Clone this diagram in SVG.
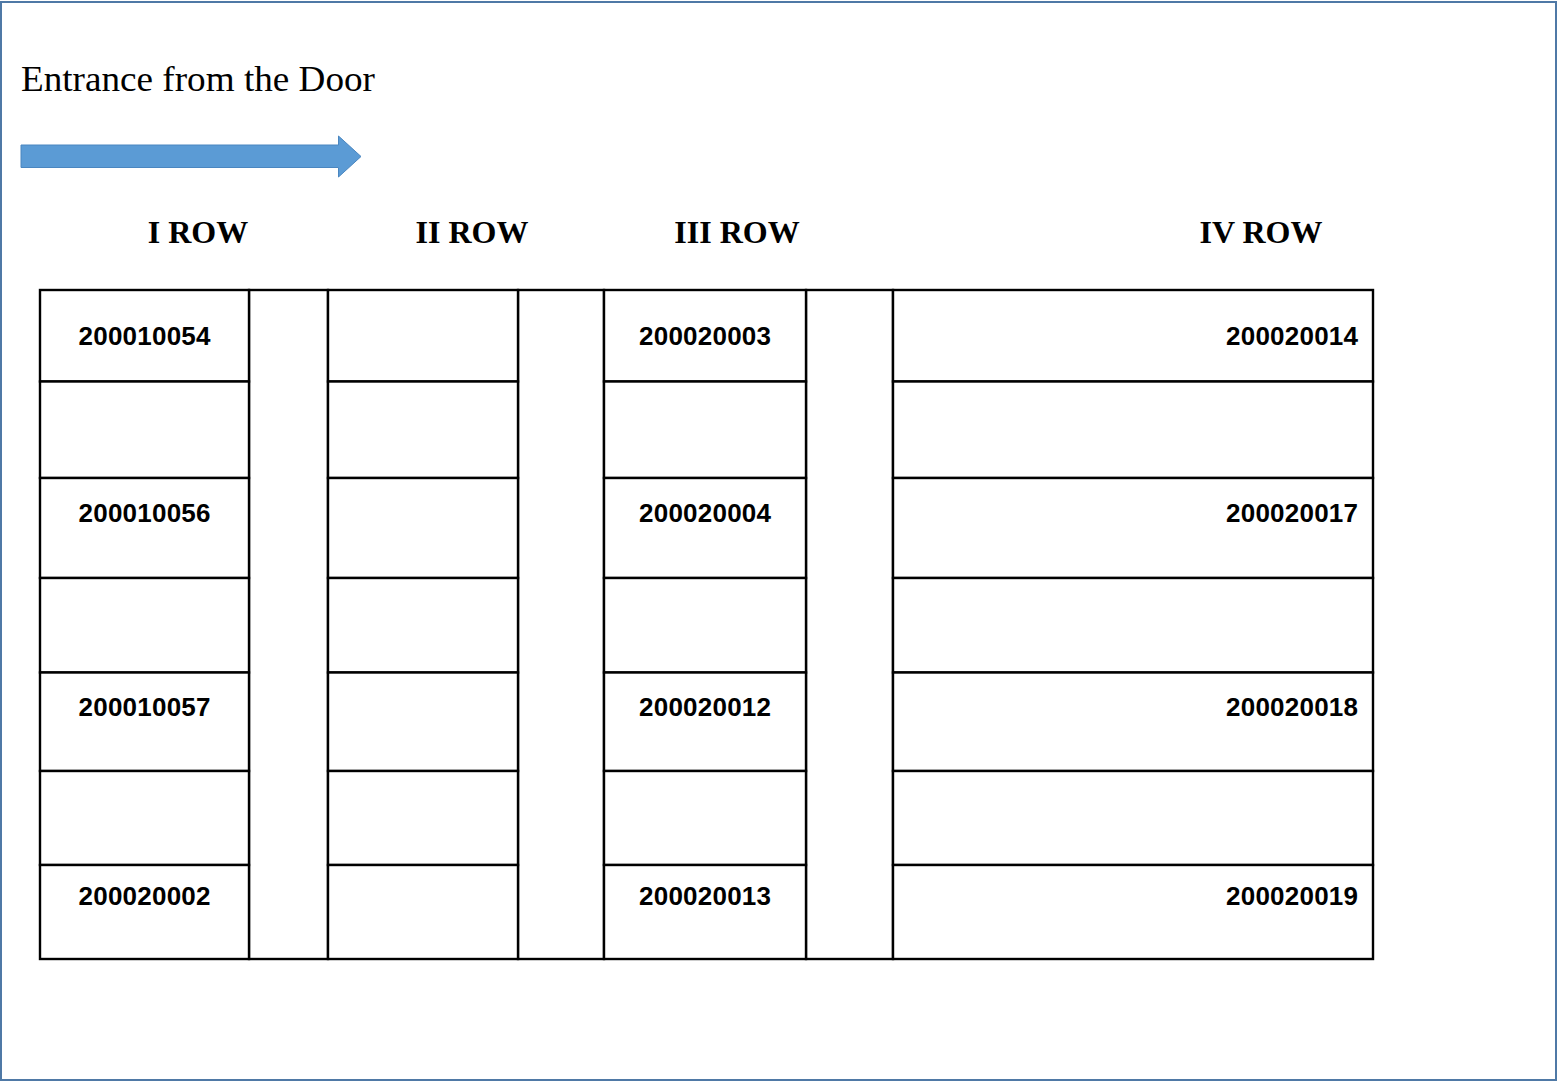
<svg xmlns="http://www.w3.org/2000/svg" width="1558" height="1082" viewBox="0 0 1558 1082">
<style>
.frame{fill:#ffffff;stroke:#4f79a6;stroke-width:2}
.cell{fill:#ffffff;stroke:#000000;stroke-width:2.4}
.num{font-family:"Liberation Sans",Arial,sans-serif;font-weight:bold;font-size:26px;fill:#000}
.hdr{font-family:"Liberation Serif","Times New Roman",serif;font-weight:bold;font-size:32px;fill:#000}
.title{font-family:"Liberation Serif","Times New Roman",serif;font-size:35px;fill:#000}
</style>
<rect class="frame" x="1" y="2" width="1555" height="1078"/>
<g id="title"><text class="title" x="21" y="91" textLength="354" lengthAdjust="spacingAndGlyphs">Entrance from the Door</text></g>
<g id="entrance-arrow"><polygon points="21,145 338.5,145 338.5,136 361,156.5 338.5,177 338.5,167.5 21,167.5" fill="#5b9bd5" stroke="#4a86c0" stroke-width="1"/></g>
<g id="headers">
<text class="hdr" x="198" y="243" text-anchor="middle">I ROW</text>
<text class="hdr" x="472" y="243" text-anchor="middle">II ROW</text>
<text class="hdr" x="737" y="243" text-anchor="middle">III ROW</text>
<text class="hdr" x="1261" y="243" text-anchor="middle">IV ROW</text>
</g>
<g id="aisles">
<rect class="cell" x="249" y="290" width="79" height="669"/>
<rect class="cell" x="518" y="290" width="86" height="669"/>
<rect class="cell" x="806" y="290" width="87" height="669"/>
</g>
<g id="row-I">
<g id="r1c1"><rect class="cell" x="40" y="290" width="209" height="91.5"/><text class="num" x="144.5" y="345" text-anchor="middle" textLength="132">200010054</text></g>
<g id="r1c2"><rect class="cell" x="40" y="381.5" width="209" height="96.5"/></g>
<g id="r1c3"><rect class="cell" x="40" y="478" width="209" height="100"/><text class="num" x="144.5" y="522" text-anchor="middle" textLength="132">200010056</text></g>
<g id="r1c4"><rect class="cell" x="40" y="578" width="209" height="94.5"/></g>
<g id="r1c5"><rect class="cell" x="40" y="672.5" width="209" height="98.5"/><text class="num" x="144.5" y="716" text-anchor="middle" textLength="132">200010057</text></g>
<g id="r1c6"><rect class="cell" x="40" y="771" width="209" height="94"/></g>
<g id="r1c7"><rect class="cell" x="40" y="865" width="209" height="94"/><text class="num" x="144.5" y="905" text-anchor="middle" textLength="132">200020002</text></g>
</g>
<g id="row-II">
<g id="r2c1"><rect class="cell" x="328" y="290" width="190" height="91.5"/></g>
<g id="r2c2"><rect class="cell" x="328" y="381.5" width="190" height="96.5"/></g>
<g id="r2c3"><rect class="cell" x="328" y="478" width="190" height="100"/></g>
<g id="r2c4"><rect class="cell" x="328" y="578" width="190" height="94.5"/></g>
<g id="r2c5"><rect class="cell" x="328" y="672.5" width="190" height="98.5"/></g>
<g id="r2c6"><rect class="cell" x="328" y="771" width="190" height="94"/></g>
<g id="r2c7"><rect class="cell" x="328" y="865" width="190" height="94"/></g>
</g>
<g id="row-III">
<g id="r3c1"><rect class="cell" x="604" y="290" width="202" height="91.5"/><text class="num" x="705" y="345" text-anchor="middle" textLength="132">200020003</text></g>
<g id="r3c2"><rect class="cell" x="604" y="381.5" width="202" height="96.5"/></g>
<g id="r3c3"><rect class="cell" x="604" y="478" width="202" height="100"/><text class="num" x="705" y="522" text-anchor="middle" textLength="132">200020004</text></g>
<g id="r3c4"><rect class="cell" x="604" y="578" width="202" height="94.5"/></g>
<g id="r3c5"><rect class="cell" x="604" y="672.5" width="202" height="98.5"/><text class="num" x="705" y="716" text-anchor="middle" textLength="132">200020012</text></g>
<g id="r3c6"><rect class="cell" x="604" y="771" width="202" height="94"/></g>
<g id="r3c7"><rect class="cell" x="604" y="865" width="202" height="94"/><text class="num" x="705" y="905" text-anchor="middle" textLength="132">200020013</text></g>
</g>
<g id="row-IV">
<g id="r4c1"><rect class="cell" x="893" y="290" width="480" height="91.5"/><text class="num" x="1358" y="345" text-anchor="end" textLength="132">200020014</text></g>
<g id="r4c2"><rect class="cell" x="893" y="381.5" width="480" height="96.5"/></g>
<g id="r4c3"><rect class="cell" x="893" y="478" width="480" height="100"/><text class="num" x="1358" y="522" text-anchor="end" textLength="132">200020017</text></g>
<g id="r4c4"><rect class="cell" x="893" y="578" width="480" height="94.5"/></g>
<g id="r4c5"><rect class="cell" x="893" y="672.5" width="480" height="98.5"/><text class="num" x="1358" y="716" text-anchor="end" textLength="132">200020018</text></g>
<g id="r4c6"><rect class="cell" x="893" y="771" width="480" height="94"/></g>
<g id="r4c7"><rect class="cell" x="893" y="865" width="480" height="94"/><text class="num" x="1358" y="905" text-anchor="end" textLength="132">200020019</text></g>
</g>
<g id="connectors"/>
</svg>
